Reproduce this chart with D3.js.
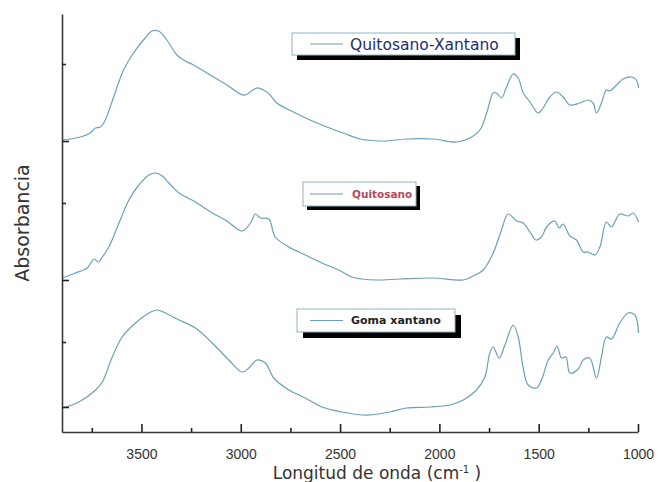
<!DOCTYPE html>
<html>
<head>
<meta charset="utf-8">
<script src="https://cdn.jsdelivr.net/npm/d3@7"></script>
<style>
  html, body { margin: 0; padding: 0; background: #fff; }
  svg { display: block; }
</style>
</head>
<body>
<svg id="chart" width="658" height="482"></svg>
<script>
// ---- Data (wavenumber cm-1, absorbance in arbitrary units incl. vertical offset) ----
const seriesNames = ["Quitosano-Xantano", "Quitosano", "Goma xantano"];

const wnQX = [3900,3808,3758,3732,3707,3682,3640,3590,3540,3490,3447,3414,3372,3321,3288,3238,3154,3070,3003,2978,2919,2886,2852,2819,2735,2651,2567,2484,2400,2366,2282,2165,2031,1913,1846,1796,1762,1729,1712,1687,1662,1628,1603,1578,1544,1503,1478,1444,1410,1377,1343,1293,1251,1226,1209,1184,1159,1142,1108,1075,1033,1008,997];
const absQX = [2.92,2.95,2.99,3.04,3.05,3.12,3.35,3.62,3.79,3.92,4.01,4.01,3.92,3.77,3.72,3.67,3.57,3.47,3.38,3.37,3.44,3.42,3.37,3.29,3.20,3.12,3.05,2.99,2.93,2.92,2.91,2.93,2.93,2.90,2.94,3.02,3.19,3.39,3.39,3.34,3.45,3.58,3.54,3.39,3.30,3.19,3.24,3.35,3.40,3.35,3.27,3.29,3.32,3.29,3.19,3.29,3.42,3.41,3.47,3.53,3.55,3.52,3.44];

const wnQ = [3900,3832,3773,3739,3717,3697,3664,3613,3563,3513,3462,3429,3395,3362,3311,3228,3144,3077,2993,2951,2926,2901,2859,2826,2758,2675,2591,2507,2440,2390,2316,2198,2031,1880,1830,1779,1729,1687,1654,1611,1578,1544,1514,1486,1460,1419,1397,1377,1343,1310,1276,1251,1217,1192,1159,1133,1092,1050,1025,997];
const absQ = [1.54,1.59,1.64,1.73,1.70,1.75,1.85,2.09,2.32,2.47,2.57,2.59,2.56,2.49,2.39,2.30,2.19,2.12,2.01,2.09,2.18,2.14,2.13,1.95,1.85,1.77,1.69,1.62,1.55,1.53,1.52,1.53,1.54,1.52,1.56,1.62,1.79,2.02,2.18,2.11,2.09,2.00,1.92,1.95,2.05,2.11,2.04,2.08,1.96,1.92,1.80,1.80,1.77,1.85,2.10,2.05,2.18,2.16,2.19,2.10];

const wnGX = [3900,3815,3731,3697,3647,3597,3530,3462,3421,3379,3311,3228,3144,3060,2993,2959,2918,2876,2834,2758,2675,2591,2490,2390,2349,2249,2165,2047,1947,1880,1813,1771,1746,1729,1699,1670,1628,1603,1578,1553,1511,1486,1452,1427,1407,1385,1363,1343,1301,1276,1243,1209,1184,1159,1133,1092,1050,1016,997];
const absGX = [0.24,0.30,0.42,0.50,0.75,0.95,1.09,1.19,1.22,1.19,1.12,1.04,0.89,0.72,0.60,0.64,0.72,0.69,0.54,0.42,0.34,0.25,0.20,0.17,0.17,0.20,0.24,0.25,0.27,0.32,0.42,0.55,0.79,0.85,0.74,0.87,1.07,0.95,0.64,0.47,0.44,0.52,0.72,0.79,0.86,0.74,0.75,0.59,0.63,0.72,0.74,0.54,0.75,0.95,0.93,1.09,1.19,1.17,0.99];

// axis ticks
const xMajorTicks = [3500, 3000, 2500, 2000, 1500, 1000];
const xMinorTicks = [3750, 3250, 2750, 2250, 1750, 1250];
const yMajorTicks = [0.25, 1.52, 2.91];
const yMinorTicks = [0.90, 2.29, 3.68];

// ---- Layout ----
const svg = d3.select("#chart");
const mLeft = 62, mRight = 638, mTop = 14, mBottom = 432;

const x = d3.scaleLinear().domain([3900, 1000]).range([mLeft, mRight]);
const y = d3.scaleLinear().domain([0, 4.18]).range([mBottom, mTop]);

const lineColor = "#6aa0b8";
const axisColor = "#3a3a3a";

const series = [
  { name: seriesNames[0], wn: wnQX, abs: absQX },
  { name: seriesNames[1], wn: wnQ, abs: absQ },
  { name: seriesNames[2], wn: wnGX, abs: absGX }
];

const line = d3.line()
  .x(d => x(d[0]))
  .y(d => y(d[1]))
  .curve(d3.curveCatmullRom.alpha(0.5));

series.forEach(s => {
  const pts = s.wn.map((w, i) => [w, s.abs[i]]);
  svg.append("path")
    .datum(pts)
    .attr("d", line)
    .attr("fill", "none")
    .attr("stroke", lineColor)
    .attr("stroke-width", 1.2);
});

// X axis
const gx = svg.append("g").attr("transform", `translate(0,${mBottom})`);
gx.call(d3.axisBottom(x).tickValues(xMajorTicks).tickSizeInner(-8).tickSizeOuter(0).tickPadding(17).tickFormat(d3.format("d")));
const gxMinor = svg.append("g").attr("transform", `translate(0,${mBottom})`);
gxMinor.call(d3.axisBottom(x).tickValues(xMinorTicks).tickSizeInner(-4).tickSizeOuter(0).tickFormat(""));
gxMinor.select(".domain").remove();

// Y axis
const gy = svg.append("g").attr("transform", `translate(${mLeft},0)`);
gy.call(d3.axisLeft(y).tickValues(yMajorTicks).tickSizeInner(-7).tickSizeOuter(0).tickFormat(""));
const gyMinor = svg.append("g").attr("transform", `translate(${mLeft},0)`);
gyMinor.call(d3.axisLeft(y).tickValues(yMinorTicks).tickSizeInner(-4).tickSizeOuter(0).tickFormat(""));
gyMinor.select(".domain").remove();

svg.selectAll(".domain").attr("stroke", axisColor).attr("stroke-width", 1.6);
svg.selectAll(".tick line").attr("stroke", "#222").attr("stroke-width", 1.6);
gx.selectAll(".tick text")
  .attr("font-family", "'Liberation Sans', Arial, sans-serif")
  .attr("font-size", 14)
  .attr("fill", "#333");

// Axis titles
const xt = svg.append("text")
  .attr("x", 377).attr("y", 479)
  .attr("text-anchor", "middle")
  .attr("font-family", "'DejaVu Sans', Verdana, sans-serif")
  .attr("font-size", 17)
  .attr("fill", "#333");
xt.append("tspan").text("Longitud de onda (cm");
xt.append("tspan").attr("font-size", 10).attr("dy", -6).text("-1");
xt.append("tspan").attr("dy", 6).text(" )");

svg.append("text")
  .attr("transform", "translate(29,223) rotate(-90)")
  .attr("text-anchor", "middle")
  .attr("font-family", "'DejaVu Sans', Verdana, sans-serif")
  .attr("font-size", 19)
  .attr("fill", "#333")
  .text("Absorbancia");

// Legends
const legends = [
  { name: seriesNames[0], bx: 292, by: 33, bw: 223, bh: 22, sh: 5, tx: 350, ty: 50, size: 15.5, weight: "normal", color: "#1e2d6e", family: "'DejaVu Sans', Verdana, sans-serif" },
  { name: seriesNames[1], bx: 303, by: 182, bw: 113, bh: 24, sh: 4, tx: 352, ty: 198, size: 10.5, weight: "bold", color: "#b84a5a", family: "'DejaVu Sans', Verdana, sans-serif" },
  { name: seriesNames[2], bx: 297, by: 309, bw: 158, bh: 23, sh: 6, tx: 351, ty: 324, size: 11, weight: "bold", color: "#222", family: "'DejaVu Sans', Verdana, sans-serif" }
];

legends.forEach(l => {
  const g = svg.append("g");
  g.append("rect").attr("x", l.bx + l.sh).attr("y", l.by + l.sh).attr("width", l.bw).attr("height", l.bh).attr("fill", "#000");
  g.append("rect").attr("x", l.bx).attr("y", l.by).attr("width", l.bw).attr("height", l.bh)
    .attr("fill", "#fff").attr("stroke", "#8fb3c4").attr("stroke-width", 1);
  const ly = l.by + l.bh / 2;
  g.append("line").attr("x1", 310).attr("x2", 343).attr("y1", ly).attr("y2", ly)
    .attr("stroke", lineColor).attr("stroke-width", 1.2);
  g.append("text").attr("x", l.tx).attr("y", l.ty)
    .attr("font-family", l.family).attr("font-size", l.size).attr("font-weight", l.weight)
    .attr("fill", l.color).text(l.name);
});
</script>
</body>
</html>
